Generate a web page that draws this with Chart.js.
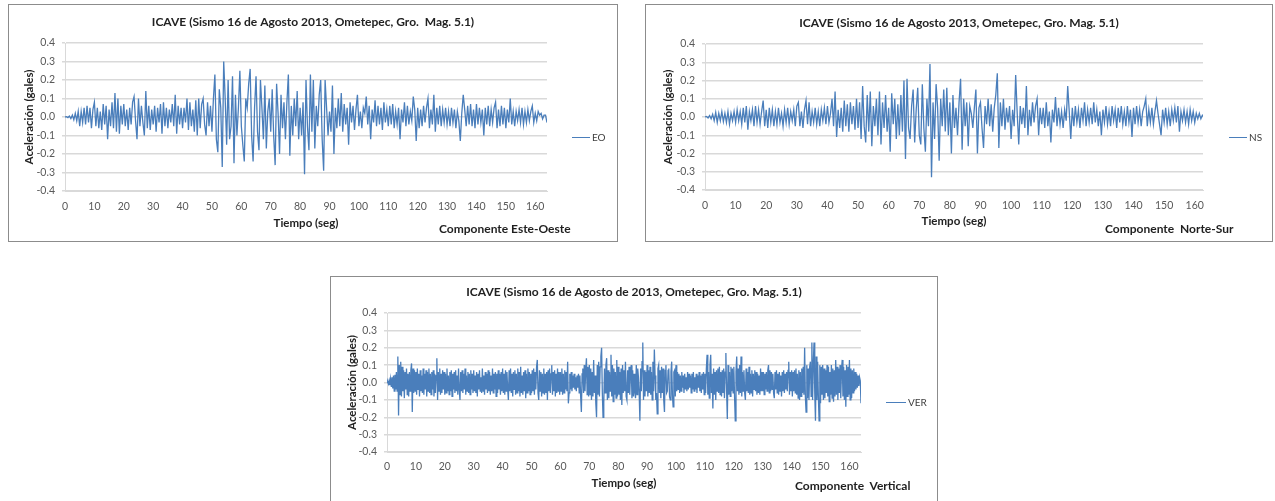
<!DOCTYPE html>
<html>
<head>
<meta charset="utf-8">
<script src="https://cdn.jsdelivr.net/npm/chart.js@4.4.1/dist/chart.umd.min.js"></script>
<style>
  body { margin: 0; width: 1275px; height: 501px; overflow: hidden; background: #fff; position: relative; font-family: Lato, "Open Sans", sans-serif; }
  .box { position: absolute; border: 1px solid #8c8c8c; background: #fff; }
  .box canvas { position: absolute; left: 0; top: 0; }
  .legend { position: absolute; font-size: 10px; line-height: 12px; color: #404040; display: flex; align-items: center; white-space: nowrap; }
  .legend .line { display: inline-block; height: 0; border-top: 1.3px solid #4a7ebb; margin-right: 2px; }
  .comp { position: absolute; font-weight: bold; font-size: 12px; line-height: 14px; color: #1f1f1f; white-space: pre; }
</style>
</head>
<body>

<div class="box" style="left:8px; top:4px; width:608px; height:236px;"><canvas id="chartEO" width="608" height="236"></canvas></div>
<div class="box" style="left:645px; top:4px; width:626px; height:236px;"><canvas id="chartNS" width="626" height="236"></canvas></div>
<div class="box" style="left:330px; top:276px; width:606px; height:240px;"><canvas id="chartVER" width="606" height="238"></canvas></div>

<div class="legend" style="left:572px; top:131px;"><span class="line" style="width:18px"></span>EO</div>
<div class="legend" style="left:1229px; top:131px;"><span class="line" style="width:18px"></span>NS</div>
<div class="legend" style="left:886px; top:396px;"><span class="line" style="width:20px"></span>VER</div>

<div class="comp" style="left:439px; top:222px;">Componente Este-Oeste</div>
<div class="comp" style="left:1105px; top:222px;">Componente  Norte-Sur</div>
<div class="comp" style="left:795px; top:479px;">Componente  Vertical</div>

<script>
// sample intervals of the records (s)
const eoStep = 0.5;
const nsStep = 0.5;
const verStep = 0.25;

const timeTicks = [0, 10, 20, 30, 40, 50, 60, 70, 80, 90, 100, 110, 120, 130, 140, 150, 160];
const accelTicks = [-0.4, -0.3, -0.2, -0.1, 0, 0.1, 0.2, 0.3, 0.4];

// Componente Este-Oeste (gales), one row = 10 s
const eoValues = [
  0, 0.002, -0.003, 0.005, -0.008, 0.01, -0.015, 0.02, -0.02, 0.03, -0.05, 0.03, -0.03, 0.05, -0.04, 0.06, -0.03, 0.05, -0.06, 0.04,
  0.08, -0.05, 0.05, -0.06, 0.03, -0.07, 0.07, -0.04, 0.06, -0.12, 0.04, -0.05, 0.08, -0.06, 0.13, -0.08, 0.1, -0.09, 0.06, -0.04,
  0.07, -0.05, 0.04, -0.07, 0.05, -0.04, 0.08, 0.11, -0.02, -0.12, 0.1, -0.05, 0.06, -0.03, -0.1, 0.14, -0.06, 0.06, -0.07, 0.04,
  -0.04, 0.06, -0.08, 0.05, -0.03, 0.07, -0.09, 0.08, -0.05, 0.05, -0.06, 0.04, -0.03, 0.07, -0.05, 0.12, -0.09, 0.06, -0.04, 0.05,
  -0.06, 0.05, -0.03, 0.1, -0.07, 0.08, -0.05, 0.04, -0.08, 0.09, -0.1, 0.1, -0.06, 0.07, 0.1, -0.04, -0.1, 0.08, -0.05, 0.06,
  -0.08, 0.1, 0.23, -0.12, -0.19, 0.15, 0.05, -0.27, 0.3, 0.1, -0.15, 0.2, -0.12, -0.05, 0.22, -0.25, 0.12, -0.1, 0.05, 0.25,
  -0.05, -0.15, -0.24, 0.1, 0.05, 0.18, 0.26, -0.1, -0.24, 0.05, 0.22, -0.08, -0.18, 0.2, 0.05, -0.12, 0.17, -0.17, 0.03, 0.1,
  -0.08, 0.15, -0.1, -0.26, 0.18, 0.02, -0.2, 0.12, -0.06, 0.08, -0.12, 0.08, 0.23, -0.21, 0.06, -0.1, 0.1, -0.05, 0.14, -0.12,
  0.05, -0.1, 0.08, -0.31, 0.2, -0.05, -0.18, 0.23, -0.08, 0.2, -0.17, 0.06, -0.05, 0.12, 0.2, -0.12, -0.29, 0.2, 0.05, -0.1,
  0.03, -0.08, 0.17, -0.2, 0.05, -0.06, 0.1, -0.05, 0.13, -0.08, 0.07, -0.04, 0.05, -0.15, 0.08, -0.03, 0.06, -0.07, 0.04, 0.12,
  -0.05, 0.03, -0.06, 0.05, 0.02, 0.11, -0.04, 0.06, -0.12, 0.04, -0.03, 0.09, -0.05, 0.06, -0.04, 0.05, -0.07, 0.08, -0.03, 0.04,
  -0.05, 0.06, -0.04, 0.07, -0.06, 0.03, -0.04, 0.05, -0.12, 0.04, -0.03, 0.08, -0.05, 0.06, -0.04, 0.03, -0.02, 0.11, 0.04, -0.13,
  0.05, -0.06, 0.04, -0.05, 0.06, -0.03, 0.05, 0.1, -0.06, 0.04, -0.04, 0.12, -0.08, 0.05, -0.04, 0.06, -0.05, 0.04, -0.03, 0.05,
  -0.04, 0.03, -0.05, 0.05, -0.03, 0.04, -0.06, 0.03, -0.02, -0.13, 0.02, 0.12, 0.04, -0.05, 0.06, -0.04, 0.07, -0.05, 0.04, -0.06,
  0.07, -0.04, 0.05, -0.03, 0.04, -0.1, 0.05, -0.04, 0.06, -0.05, 0.04, -0.03, 0.05, 0.08, -0.06, 0.04, -0.05, 0.06, -0.04, 0.05,
  -0.06, 0.04, -0.03, 0.1, -0.04, 0.03, -0.05, 0.03, -0.02, 0.04, -0.03, 0.05, -0.04, 0.03, -0.03, 0.04, -0.02, 0.03, 0.06, -0.03,
  0.02, -0.02, 0.03, 0.01, 0.02, -0.01, 0.01, 0.01, -0.03
];

// Componente Norte-Sur (gales), one row = 10 s
const nsValues = [
  0, 0.003, -0.005, 0.008, -0.01, 0.015, -0.02, 0.025, -0.03, 0.02, -0.02, 0.03, -0.025, 0.02, -0.03, 0.03, -0.04, 0.02, -0.02, 0.03,
  -0.03, 0.04, -0.02, 0.03, -0.04, 0.05, -0.03, 0.06, -0.07, 0.03, -0.02, 0.04, -0.05, 0.06, -0.03, 0.04, -0.04, 0.03, 0.09, -0.05,
  0.04, -0.06, 0.05, -0.03, 0.04, -0.05, 0.03, -0.04, 0.05, -0.03, 0.02, -0.05, 0.04, -0.03, 0.05, -0.04, 0.03, -0.02, 0.04, -0.05,
  0.06, 0.08, -0.05, 0.03, -0.06, 0.04, 0.09, -0.04, 0.08, -0.05, 0.03, -0.03, 0.05, -0.04, 0.03, -0.05, 0.04, -0.02, 0.05, -0.04,
  0.06, -0.03, 0.02, 0.1, -0.05, 0.14, -0.11, 0.04, -0.06, 0.05, -0.08, 0.09, -0.05, 0.07, -0.08, 0.08, -0.04, 0.06, -0.07, 0.1,
  -0.06, 0.08, -0.12, 0.17, -0.05, -0.14, 0.12, -0.08, 0.14, -0.16, 0.06, -0.05, 0.1, -0.1, 0.14, -0.15, 0.08, -0.06, 0.12, -0.08,
  0.05, -0.19, 0.13, -0.04, 0.1, -0.12, 0.07, -0.1, 0.12, -0.08, 0.2, -0.23, 0.21, -0.06, -0.12, 0.06, 0.15, -0.14, 0.04, 0.16,
  -0.1, -0.15, 0.18, -0.06, -0.19, 0.1, -0.05, 0.29, -0.33, 0.08, -0.12, 0.18, 0.05, -0.24, 0.1, -0.05, 0.15, -0.08, 0.16, -0.1,
  0.08, -0.2, 0.12, -0.06, 0.05, -0.1, 0.08, 0.21, -0.18, 0.1, -0.05, 0.08, -0.16, 0.06, 0.02, -0.06, 0.05, 0.15, -0.2, 0.05,
  0.08, -0.06, -0.17, 0.06, -0.04, 0.1, -0.05, 0.07, -0.08, 0.05, 0.12, 0.24, -0.17, 0.08, -0.05, 0.1, -0.07, 0.05, -0.03, 0.06,
  -0.12, 0.04, -0.05, 0.23, 0.02, -0.15, 0.06, -0.04, 0.05, -0.06, 0.17, -0.1, 0.04, -0.05, 0.08, -0.03, 0.06, 0.1, -0.1, 0.05,
  -0.04, 0.05, -0.06, 0.08, -0.05, 0.03, -0.14, 0.04, -0.03, 0.11, -0.05, 0.05, -0.04, 0.03, -0.06, 0.04, -0.02, 0.17, 0.03, -0.12,
  0.05, -0.05, 0.06, -0.03, 0.04, -0.06, 0.05, -0.02, 0.08, -0.05, 0.04, -0.03, 0.05, -0.04, 0.08, -0.03, 0.04, -0.05, 0.03, -0.1,
  0.04, -0.03, 0.06, -0.04, 0.03, -0.05, 0.06, -0.02, 0.04, -0.06, 0.05, -0.03, 0.06, -0.04, 0.03, -0.05, 0.06, -0.03, 0.04, -0.11,
  0.05, -0.04, 0.06, -0.03, 0.04, -0.05, 0.03, 0.06, 0.1, -0.05, 0.04, -0.03, 0.05, -0.04, 0.03, 0.09, 0.02, -0.04, -0.1, 0.04,
  -0.03, 0.05, -0.04, 0.03, -0.05, 0.04, -0.02, 0.05, -0.03, 0.06, -0.08, 0.03, -0.02, 0.04, -0.03, 0.03, -0.04, 0.04, -0.02, 0.03,
  -0.03, 0.02, -0.01, 0.02, -0.01, 0.01, 0
];

// Componente Vertical (gales), one row = 5 s
const verValues = [
  0, 0.005, -0.008, 0.012, -0.015, 0.02, -0.025, 0.03, -0.035, 0.04, -0.05, 0.045, -0.04, 0.06, -0.05, 0.15, -0.19, 0.1, -0.07, 0.12,
  -0.08, 0.09, -0.05, 0.07, -0.09, 0.06, -0.04, 0.08, -0.07, 0.05, -0.08, 0.06, -0.05, 0.07, 0.11, -0.17, 0.08, -0.06, 0.07, -0.05,
  0.06, -0.07, 0.08, -0.04, 0.05, -0.08, 0.07, -0.05, 0.04, -0.06, 0.08, -0.07, 0.05, -0.04, 0.07, -0.08, 0.06, -0.05, 0.08, -0.06,
  0.05, -0.07, 0.06, -0.04, 0.07, -0.08, 0.05, -0.06, 0.04, 0.14, -0.1, 0.06, -0.05, 0.08, -0.07, 0.05, -0.06, 0.07, -0.04, 0.06,
  -0.07, 0.05, -0.06, 0.08, -0.05, 0.04, -0.07, 0.06, -0.05, 0.07, -0.08, 0.05, -0.04, 0.06, -0.06, 0.07, -0.05, 0.04, -0.07, 0.08,
  -0.04, -0.1, 0.06, -0.05, 0.07, -0.06, 0.05, -0.04, 0.08, -0.07, 0.04, -0.05, 0.06, -0.06, 0.05, -0.07, 0.07, -0.04, 0.05, -0.06,
  0.07, -0.05, 0.04, -0.06, 0.06, -0.08, 0.05, -0.04, 0.07, -0.05, 0.03, -0.06, 0.08, -0.05, 0.04, -0.07, 0.06, -0.04, 0.05, -0.06,
  0.07, -0.05, 0.06, -0.07, 0.04, -0.05, 0.08, -0.06, 0.05, -0.04, 0.06, -0.08, 0.05, -0.06, 0.07, -0.04, 0.05, -0.07, 0.06, -0.05,
  0.08, -0.06, 0.05, -0.07, 0.07, -0.05, 0.06, -0.04, -0.1, 0.07, -0.05, 0.08, -0.06, 0.05, -0.08, 0.06, -0.04, 0.07, -0.07, 0.05,
  -0.06, 0.08, -0.05, 0.06, -0.08, 0.09, -0.06, 0.04, -0.07, 0.06, -0.05, 0.07, -0.09, 0.05, -0.06, 0.08, -0.05, 0.06, -0.07, 0.05,
  -0.06, 0.07, -0.05, 0.08, -0.07, 0.06, -0.04, 0.09, 0.13, -0.06, -0.1, 0.07, -0.05, 0.06, -0.08, 0.05, -0.06, 0.08, -0.07, 0.05,
  -0.06, 0.06, -0.1, 0.07, -0.05, 0.08, -0.06, 0.05, 0.1, -0.07, 0.06, -0.05, 0.07, -0.08, 0.05, -0.06, 0.08, -0.05, 0.06, -0.07,
  0.06, -0.05, 0.08, -0.07, 0.05, -0.06, 0.07, -0.04, 0.06, -0.05, 0.12, -0.12, -0.06, 0.05, -0.04, 0.06, -0.05, 0.04, -0.03, 0.05,
  -0.04, 0.03, -0.05, 0.04, -0.03, 0.05, -0.06, 0.04, -0.08, -0.17, 0.05, 0.08, -0.06, 0.1, -0.05, 0.07, 0.14, -0.07, 0.09, -0.08,
  0.1, -0.07, 0.08, -0.1, 0.06, -0.08, 0.13, -0.06, 0.04, -0.12, -0.2, 0.1, -0.07, 0.12, -0.08, 0.09, 0.15, 0.2, -0.06, -0.2,
  -0.12, 0.08, -0.06, 0.1, 0.14, -0.1, 0.07, -0.09, 0.06, -0.05, 0.16, -0.08, 0.1, -0.11, 0.08, -0.07, 0.06, -0.09, 0.13, -0.08,
  0.09, -0.07, 0.06, -0.1, 0.08, -0.13, 0.1, -0.06, 0.07, -0.05, 0.12, -0.08, -0.1, 0.07, -0.06, 0.09, -0.07, 0.06, 0.1, -0.09,
  0.07, -0.08, 0.05, -0.06, -0.09, 0.1, -0.07, 0.08, 0.03, -0.06, -0.22, 0.08, -0.05, 0.12, 0.23, -0.1, 0.07, -0.08, 0.06, -0.05,
  0.1, -0.08, 0.07, -0.06, 0.09, -0.07, 0.06, -0.1, 0.12, -0.05, 0.19, 0.04, -0.1, -0.06, -0.18, 0.08, 0.1, -0.06, 0.07, -0.09,
  0.09, -0.06, 0.08, -0.1, -0.17, 0.07, 0.1, -0.06, -0.05, 0.07, 0.08, -0.08, -0.1, 0.06, 0.12, -0.07, -0.14, 0.06, 0.07, -0.08,
  0.1, -0.05, 0.06, -0.04, 0.05, -0.06, 0.04, -0.05, 0.06, -0.03, 0.04, -0.06, 0.05, -0.04, 0.03, -0.05, 0.06, -0.04, 0.05, -0.03,
  0.04, -0.06, 0.05, -0.04, 0.06, -0.05, 0.03, -0.04, 0.05, -0.06, 0.04, -0.03, 0.06, -0.05, 0.04, -0.06, 0.05, -0.04, 0.06, -0.07,
  0.05, -0.06, 0.08, 0.16, -0.07, 0.06, -0.09, 0.1, 0.16, -0.06, 0.05, -0.15, 0.08, -0.07, 0.06, -0.1, 0.07, -0.05, 0.08, -0.06,
  0.09, -0.07, 0.06, -0.08, 0.07, -0.06, 0.08, -0.09, 0.06, 0.17, -0.05, -0.21, 0.1, -0.07, 0.06, -0.08, 0.09, -0.05, 0.08, -0.06,
  0.09, -0.08, -0.22, 0.06, 0.15, -0.05, 0.08, -0.07, 0.1, -0.06, 0.15, -0.08, 0.06, -0.05, 0.07, -0.06, -0.1, 0.08, -0.05, 0.06,
  -0.06, 0.09, -0.07, 0.05, -0.06, 0.07, -0.08, 0.05, -0.04, 0.07, -0.05, 0.06, -0.07, 0.05, -0.06, 0.04, -0.07, 0.08, -0.05, 0.06,
  -0.05, 0.06, -0.07, 0.05, -0.04, 0.06, -0.05, 0.07, 0.1, -0.06, 0.07, -0.05, 0.06, -0.04, 0.05, -0.06, -0.09, 0.06, -0.04, 0.07,
  -0.06, 0.05, -0.07, 0.06, -0.05, 0.04, -0.08, 0.06, -0.05, 0.07, -0.06, 0.05, -0.04, 0.06, -0.05, 0.07, 0.12, -0.07, 0.06, -0.05,
  0.07, -0.08, 0.06, -0.05, 0.07, -0.06, 0.08, -0.07, 0.05, -0.09, 0.07, -0.1, 0.06, -0.08, 0.08, -0.06, 0.09, -0.07, 0.2, -0.08,
  -0.17, 0.1, -0.09, 0.08, -0.1, 0.09, 0.12, -0.08, 0.23, -0.1, 0.11, 0.23, -0.06, -0.22, 0.15, -0.1, 0.12, -0.08, -0.22, 0.1,
  -0.12, 0.09, -0.07, 0.1, -0.1, 0.08, -0.09, 0.07, -0.06, 0.1, -0.08, 0.09, -0.11, 0.06, -0.07, 0.1, -0.09, 0.08, -0.11, 0.07,
  -0.08, 0.13, -0.07, 0.09, -0.1, 0.08, -0.06, 0.1, -0.09, 0.07, 0.13, -0.08, 0.09, -0.1, 0.07, -0.14, 0.1, -0.08, 0.09, -0.07,
  0.13, -0.1, 0.08, -0.09, 0.07, -0.06, 0.08, -0.05, 0.06, -0.04, 0.05, -0.03, 0.04, -0.02, 0.03, 0.01, -0.12
];

const fontFamily = "Lato, 'Open Sans', sans-serif";
const gridColor = "#d9d9d9";
const lineColor = "#4a7ebb";

function buildChart(canvasId, cfg) {
  const canvas = document.getElementById(canvasId);
  const W = canvas.width;
  const H = canvas.height;
  const points = cfg.values.map((v, i) => ({ x: i * cfg.step, y: v }));

  return new Chart(canvas, {
    type: "line",
    data: {
      datasets: [
        {
          label: cfg.label,
          data: points,
          borderColor: lineColor,
          borderWidth: 1.3,
          pointRadius: 0,
          tension: 0,
          fill: false,
        },
      ],
    },
    options: {
      responsive: false,
      animation: false,
      events: [],
      layout: { padding: 0 },
      plugins: {
        legend: { display: false },
        tooltip: { enabled: false },
        title: {
          display: true,
          text: cfg.title,
          color: "#222",
          font: { family: fontFamily, size: 12, weight: "bold" },
          padding: { top: cfg.titleY - 7.2, bottom: cfg.area.top - cfg.titleY - 7.2 },
        },
      },
      scales: {
        x: {
          type: "linear",
          min: 0,
          max: cfg.xMax,
          afterFit: (s) => { s.height = H - cfg.area.bottom; },
          afterBuildTicks: (s) => { s.ticks = timeTicks.map((v) => ({ value: v })); },
          grid: { display: false, drawTicks: false },
          border: { color: gridColor, width: 1 },
          ticks: {
            padding: cfg.xTickPad,
            autoSkip: false,
            maxRotation: 0,
            color: "#595959",
            font: { family: fontFamily, size: 10.5 },
          },
          title: {
            display: true,
            text: "Tiempo (seg)",
            color: "#222",
            font: { family: fontFamily, size: 11.5, weight: "bold" },
            padding: { top: 0, bottom: H - cfg.xTitleY - 6.9 },
          },
        },
        y: {
          min: -0.4,
          max: 0.4,
          afterFit: (s) => { s.width = cfg.area.left; },
          afterBuildTicks: (s) => { s.ticks = accelTicks.map((v) => ({ value: v })); },
          grid: { color: gridColor, lineWidth: 1.5, tickLength: 3 },
          border: { color: gridColor, width: 1 },
          ticks: {
            padding: 7,
            color: "#595959",
            font: { family: fontFamily, size: 10.5 },
            callback: (v) => (Math.abs(v) < 1e-9 ? "0.0" : v.toFixed(1)),
          },
          title: {
            display: true,
            text: "Aceleración (gales)",
            color: "#222",
            font: { family: fontFamily, size: 11.5, weight: "bold" },
            padding: { top: cfg.yTitleX - 6.9, bottom: 0 },
          },
        },
        // empty right-hand band that holds the legend space
        legendSpace: {
          position: "right",
          min: -0.4,
          max: 0.4,
          afterFit: (s) => { s.width = W - cfg.area.right; },
          grid: { display: false, drawOnChartArea: false, drawTicks: false },
          border: { display: false },
          ticks: { display: false },
        },
      },
    },
  });
}

document.addEventListener("DOMContentLoaded", function () {
  buildChart("chartEO", {
    label: "EO",
    values: eoValues,
    step: eoStep,
    title: "ICAVE (Sismo 16 de Agosto 2013, Ometepec, Gro.  Mag. 5.1)",
    xMax: 164,
    area: { left: 56, right: 538, top: 38, bottom: 186 },
    titleY: 17,
    yTitleX: 20,
    xTitleY: 218,
    xTickPad: 9,
  });

  buildChart("chartNS", {
    label: "NS",
    values: nsValues,
    step: nsStep,
    title: "ICAVE (Sismo 16 de Agosto 2013, Ometepec, Gro. Mag. 5.1)",
    xMax: 162.7,
    area: { left: 59, right: 557, top: 39, bottom: 185 },
    titleY: 18,
    yTitleX: 22,
    xTitleY: 216.5,
    xTickPad: 9,
  });

  buildChart("chartVER", {
    label: "VER",
    values: verValues,
    step: verStep,
    title: "ICAVE (Sismo 16 de Agosto de 2013, Ometepec, Gro. Mag. 5.1)",
    xMax: 164,
    area: { left: 56, right: 530, top: 36, bottom: 175 },
    titleY: 15,
    yTitleX: 21,
    xTitleY: 206,
    xTickPad: 8,
  });
});
</script>
</body>
</html>
